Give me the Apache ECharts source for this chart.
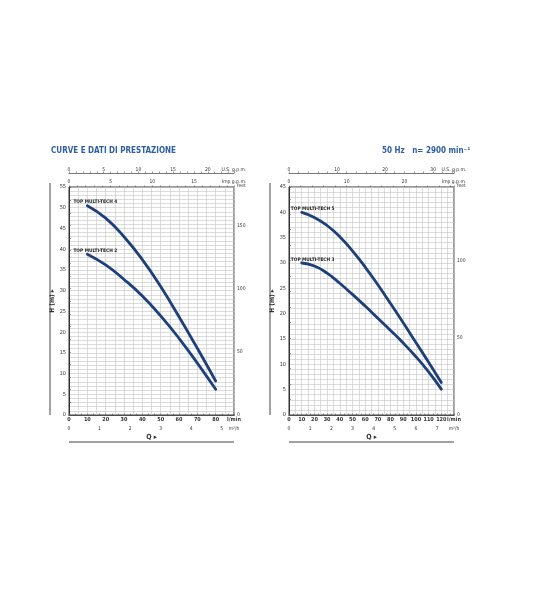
<!DOCTYPE html>
<html>
<head>
<meta charset="utf-8">
<script src="https://cdn.jsdelivr.net/npm/echarts@6/dist/echarts.min.js"></script>
<style>
  html, body { margin: 0; padding: 0; background: #fff; }
  #main { width: 536px; height: 594px; }
</style>
</head>
<body>
<div id="main"></div>
<script>
// portate (l/min) e prevalenze (m)
var qLeft = [10, 20, 30, 40, 50, 60, 70, 80];
var hMultiTech4 = [50.5, 47.5, 43.0, 37.5, 31.0, 23.7, 16.1, 8.2];
var hMultiTech2 = [38.8, 36.2, 32.7, 28.7, 23.9, 18.5, 12.5, 6.2];

var qRight = [10, 20, 30, 40, 50, 60, 70, 80, 90, 100, 110, 120];
var hMultiTech5 = [40.0, 39.0, 37.4, 35.2, 32.4, 29.2, 25.7, 22.0, 18.2, 14.3, 10.4, 6.4];
var hMultiTech3 = [30.0, 29.4, 28.0, 26.0, 23.8, 21.5, 19.1, 16.7, 14.2, 11.5, 8.5, 5.1];

// scale
var qMax = [90, 130];
var hMax = [55, 45];
var US_GPM = 0.264172, IMP_GPM = 0.219969, M3H = 0.06, FEET = 3.28084;

var FONT = '"Liberation Sans Narrow", "DejaVu Sans Condensed", "Liberation Sans", sans-serif';
var CURVE_COLOR = '#1d3f7c';
var TXT = '#333';

function pairs(q, h) {
  var out = [];
  for (var i = 0; i < q.length; i++) out.push([q[i], h[i]]);
  return out;
}
function near(a, b) { return Math.abs(a - b) < 1e-6; }

var grids = [
  { left: 69, top: 187, width: 165, height: 228 },
  { left: 289, top: 187, width: 165, height: 228 }
];

var xAxes = [], yAxes = [];
[0, 1].forEach(function (g) {
  var qm = qMax[g], hm = hMax[g];
  // l/min (asse principale)
  xAxes.push({
    gridIndex: g, type: 'value', min: 0, max: qm, interval: 5, position: 'bottom',
    name: 'Q \u25B8', nameLocation: 'middle', nameGap: 19,
    nameTextStyle: { fontFamily: FONT, fontSize: 7, fontWeight: 'bold', color: TXT },
    axisLine: { lineStyle: { color: '#333', width: 1 } },
    axisTick: { show: false },
    splitLine: { show: true, lineStyle: { color: '#c4c4c4', width: 0.6 } },
    axisLabel: {
      interval: 0, margin: 2, fontFamily: FONT, fontSize: 5.5, fontWeight: 'bold', color: TXT,
      formatter: function (v) { if (near(v, qm)) return 'l/min'; return v % 10 === 0 ? String(v) : ''; }
    }
  });
  // m3/h
  var mm = qm * M3H;
  xAxes.push({
    gridIndex: g, type: 'value', min: 0, max: mm, interval: 0.2, position: 'bottom', offset: 9,
    axisLine: { lineStyle: { color: '#555', width: 0.8 } },
    axisTick: { inside: true, length: 1.5, lineStyle: { color: '#555', width: 0.6 } },
    splitLine: { show: false },
    axisLabel: {
      interval: 0, margin: 2, fontFamily: FONT, fontSize: 5, color: TXT,
      formatter: function (v) {
        if (near(v, mm)) return 'm\u00B3/h';
        return near(v, Math.round(v)) ? String(Math.round(v)) : '';
      }
    }
  });
  // U.S. g.p.m.
  var um = qm * US_GPM, uStep = g === 0 ? 1 : 2, uLab = g === 0 ? 5 : 10;
  xAxes.push({
    gridIndex: g, type: 'value', min: 0, max: um, interval: uStep, position: 'top', offset: 14,
    axisLine: { lineStyle: { color: '#555', width: 0.8 } },
    axisTick: { length: 1.5, lineStyle: { color: '#555', width: 0.6 } },
    splitLine: { show: false },
    axisLabel: {
      interval: 0, margin: 1, fontFamily: FONT, fontSize: 5, color: TXT,
      formatter: function (v) {
        if (near(v, um)) return 'U.S. g.p.m.';
        var r = Math.round(v);
        return near(v, r) && r % uLab === 0 ? String(r) : '';
      }
    }
  });
  // Imp. g.p.m.
  var im = qm * IMP_GPM, iStep = g === 0 ? 1 : 2, iLab = g === 0 ? 5 : 10;
  xAxes.push({
    gridIndex: g, type: 'value', min: 0, max: im, interval: iStep, position: 'top', offset: 0,
    axisLine: { show: false },
    axisTick: { length: 1.5, lineStyle: { color: '#555', width: 0.6 } },
    splitLine: { show: false },
    axisLabel: {
      interval: 0, margin: 3, fontFamily: FONT, fontSize: 5, color: TXT,
      formatter: function (v) {
        if (near(v, im)) return 'Imp g.p.m.';
        var r = Math.round(v);
        return near(v, r) && r % iLab === 0 ? String(r) : '';
      }
    }
  });
  // H (m)
  yAxes.push({
    gridIndex: g, type: 'value', min: 0, max: hm, interval: 5, position: 'left',
    name: 'H (m) \u25B8', nameLocation: 'middle', nameGap: 11, nameRotate: 90,
    nameTextStyle: { fontFamily: FONT, fontSize: 6.5, fontWeight: 'bold', color: TXT },
    axisLine: { lineStyle: { color: '#333', width: 1 } },
    axisTick: { show: false },
    splitLine: { show: true, lineStyle: { color: '#c4c4c4', width: 0.6 } },
    minorTick: { show: false, splitNumber: 5 },
    minorSplitLine: { show: true, lineStyle: { color: '#c4c4c4', width: 0.6 } },
    axisLabel: { margin: 3, fontFamily: FONT, fontSize: 5.5, color: TXT }
  });
  // feet
  var fm = hm * FEET;
  yAxes.push({
    gridIndex: g, type: 'value', min: 0, max: fm, interval: 10, position: 'right',
    axisLine: { lineStyle: { color: '#333', width: 1 } },
    axisTick: { length: 2, lineStyle: { color: '#555', width: 0.6 } },
    splitLine: { show: false },
    axisLabel: {
      interval: 0, margin: 3, fontFamily: FONT, fontSize: 5, color: TXT,
      formatter: function (v) { return near(v, fm) ? '' : (v % 50 === 0 ? String(v) : ''); }
    }
  });
});

function curve(name, q, h, g) {
  return {
    name: name, type: 'line', smooth: 0.5,
    xAxisIndex: g * 4, yAxisIndex: g * 2,
    data: pairs(q, h),
    symbol: 'circle', symbolSize: 0.1, showSymbol: true,
    lineStyle: { color: CURVE_COLOR, width: 2.8, cap: 'round' },
    itemStyle: { color: CURVE_COLOR },
    label: {
      show: true, position: 'top', distance: 1, offset: [g === 0 ? 8 : 11, 0],
      fontFamily: FONT, fontSize: 4.8, fontWeight: 'bold', color: '#222',
      formatter: function (p) { return p.dataIndex === 0 ? p.seriesName : ''; }
    },
    emphasis: { disabled: true },
    animation: false
  };
}

var titleStyle = { fontFamily: FONT, fontSize: 8, fontWeight: 'bold', color: '#2d5ea6' };
var smallText = { fontFamily: FONT, fontSize: 5, fill: TXT };

var chart = echarts.init(document.getElementById('main'), null, { renderer: 'canvas' });
chart.setOption({
  backgroundColor: '#fff',
  animation: false,
  title: [
    { text: 'CURVE E DATI DI PRESTAZIONE', left: 46, top: 142, textStyle: titleStyle },
    { text: '50 Hz   n= 2900 min\u207B\u00B9', left: 377, top: 142, textStyle: titleStyle }
  ],
  grid: grids.map(function (g) {
    return { left: g.left, top: g.top, width: g.width, height: g.height,
      show: true, borderColor: '#333', borderWidth: 1 };
  }),
  xAxis: xAxes,
  yAxis: yAxes,
  graphic: [
    { type: 'text', left: 237, top: 183, style: Object.assign({ text: 'feet' }, smallText) },
    { type: 'text', left: 457, top: 183, style: Object.assign({ text: 'feet' }, smallText) },
    { type: 'line', shape: { x1: 50, y1: 183, x2: 50, y2: 415 }, style: { stroke: '#444', lineWidth: 1 } },
    { type: 'line', shape: { x1: 270, y1: 183, x2: 270, y2: 415 }, style: { stroke: '#444', lineWidth: 1 } },
    { type: 'line', shape: { x1: 69, y1: 442, x2: 234, y2: 442 }, style: { stroke: '#444', lineWidth: 1 } },
    { type: 'line', shape: { x1: 289, y1: 442, x2: 454, y2: 442 }, style: { stroke: '#444', lineWidth: 1 } }
  ],
  series: [
    curve('TOP MULTI-TECH 4', qLeft, hMultiTech4, 0),
    curve('TOP MULTI-TECH 2', qLeft, hMultiTech2, 0),
    curve('TOP MULTI-TECH 5', qRight, hMultiTech5, 1),
    curve('TOP MULTI-TECH 3', qRight, hMultiTech3, 1)
  ]
});
</script>
</body>
</html>
